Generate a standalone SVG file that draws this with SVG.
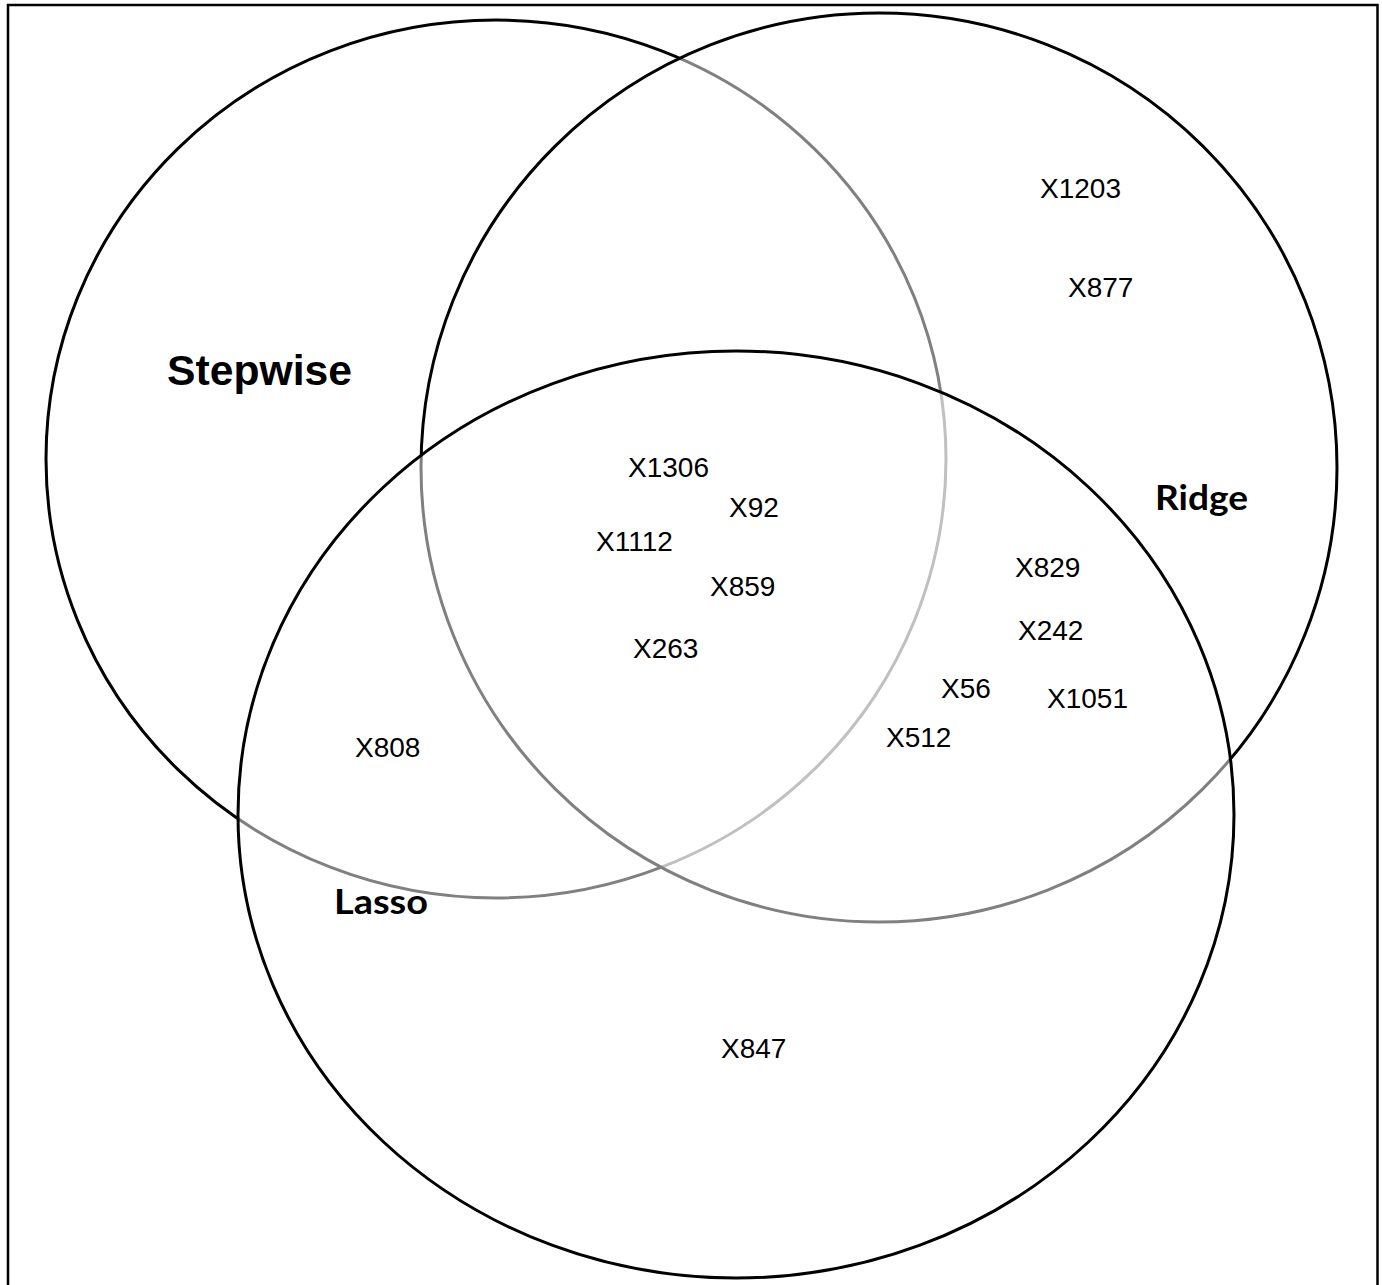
<svg xmlns="http://www.w3.org/2000/svg" width="1382" height="1285" viewBox="0 0 1382 1285">
<style>
.set{fill:#ffffff;fill-opacity:0.5;stroke:#000000;stroke-width:3}
.item{font-family:"Liberation Sans",Arial,sans-serif;font-size:28px;fill:#000000}
.lab{font-family:Lato,"Liberation Sans",sans-serif;font-weight:bold;font-size:34px;fill:#000000}
</style>
<rect x="0" y="0" width="1382" height="1285" fill="#ffffff"/>
<rect id="frame" x="8" y="5" width="1369.5" height="1290" fill="none" stroke="#000000" stroke-width="2.5"/>
<g id="connectors"></g>
<g id="stepwise">
<ellipse class="set" cx="496" cy="459" rx="450" ry="439"/>
</g>
<g id="ridge">
<ellipse class="set" cx="879" cy="467.5" rx="458" ry="454.5"/>
</g>
<g id="lasso">
<ellipse class="set" cx="736" cy="814.5" rx="498" ry="463.5"/>
</g>
<g id="labels">
<text x="167" y="385" style="font-family:'Liberation Sans',Arial,sans-serif;font-weight:bold;font-size:43px" textLength="185" lengthAdjust="spacingAndGlyphs">Stepwise</text>
<text class="lab" x="1155" y="510" textLength="93" lengthAdjust="spacingAndGlyphs">Ridge</text>
<text class="lab" x="334" y="914" textLength="94" lengthAdjust="spacingAndGlyphs">Lasso</text>
</g>
<g id="items">
<text class="item" x="1040" y="198">X1203</text>
<text class="item" x="1068" y="297">X877</text>
<text class="item" x="628" y="477">X1306</text>
<text class="item" x="729" y="517">X92</text>
<text class="item" x="596" y="551">X1112</text>
<text class="item" x="710" y="596">X859</text>
<text class="item" x="633" y="658">X263</text>
<text class="item" x="1015" y="577">X829</text>
<text class="item" x="1018" y="640">X242</text>
<text class="item" x="941" y="698">X56</text>
<text class="item" x="1047" y="708">X1051</text>
<text class="item" x="886" y="747">X512</text>
<text class="item" x="355" y="757">X808</text>
<text class="item" x="721" y="1058">X847</text>
</g>
</svg>
